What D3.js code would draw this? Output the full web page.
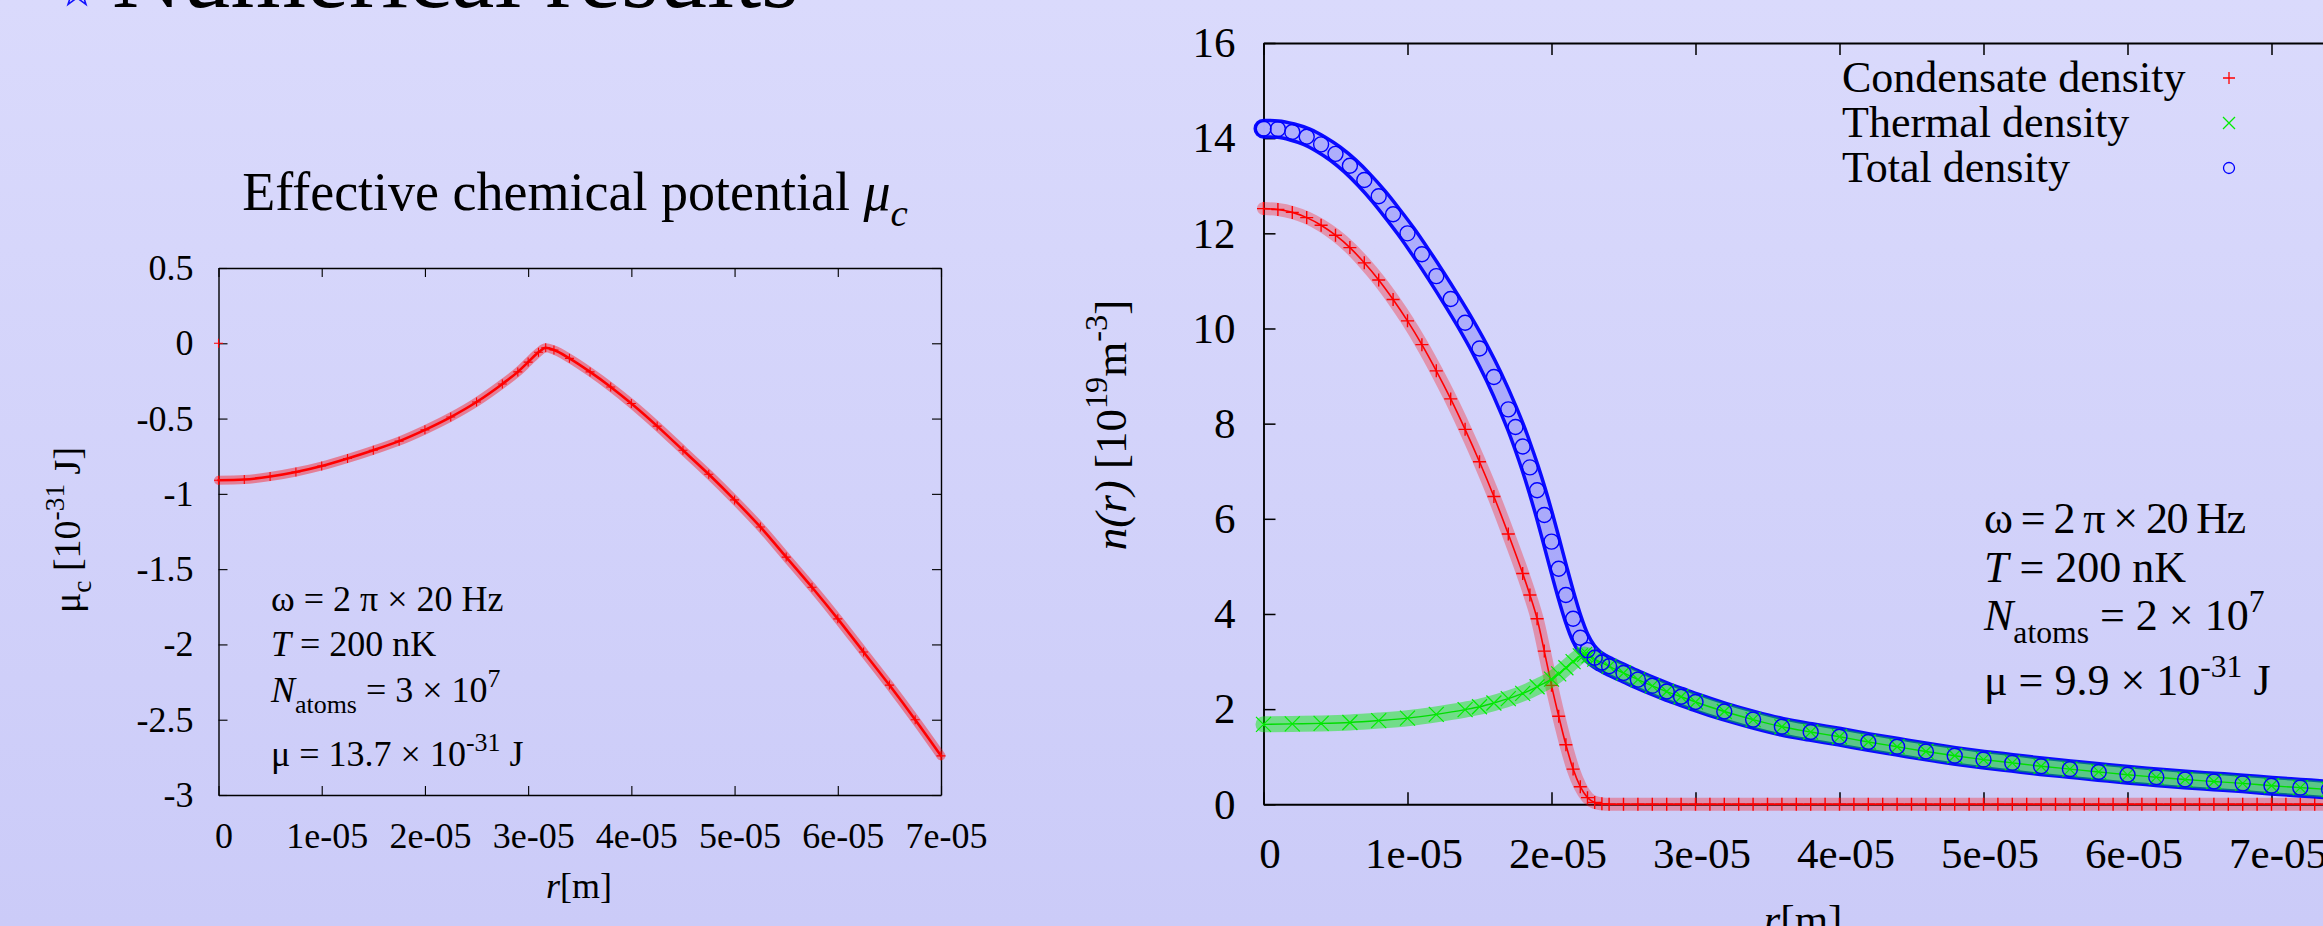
<!DOCTYPE html>
<html>
<head>
<meta charset="utf-8">
<script src="https://cdn.jsdelivr.net/npm/d3@7"></script>
<style>
  html, body { margin: 0; padding: 0; overflow: hidden; background: #d3d3fa; }
  svg { display: block; font-family: "Liberation Serif", "Times New Roman", serif; }
</style>
</head>
<body>
<div id="chart"></div>
<script>
// ---- data (r in micrometres) ----
const muR = [0, 2.5, 5, 7.5, 10, 12.5, 15, 17.5, 20, 22.5, 25, 27.5, 29, 30, 31, 31.7, 32.5, 34, 36, 38,
  40, 42.5, 45, 47.5, 50, 52.5, 55, 57.5, 60, 62.5, 65, 67.5, 70];
const muC = [-0.91, -0.905, -0.885, -0.855, -0.815, -0.765, -0.71, -0.65, -0.575, -0.49, -0.39, -0.27, -0.19, -0.125, -0.06, -0.03, -0.045, -0.10, -0.19, -0.29,
  -0.40, -0.55, -0.71, -0.87, -1.04, -1.22, -1.42, -1.62, -1.83, -2.05, -2.27, -2.50, -2.74];
const muStray = [[0, 0]];

const condR = [0, 1, 2, 3, 4, 5, 6, 7, 8, 9, 10, 11, 12, 13, 14, 15, 16, 17, 18,
  18.5, 19, 19.5, 20, 20.5, 21, 21.5, 22, 22.5, 23, 23.5, 24,
  25, 26, 27, 28, 29, 30, 31, 32, 33, 34, 35, 36, 37, 38, 39, 40, 41, 42, 43, 44, 45, 46, 47, 48, 49, 50,
  51, 52, 53, 54, 55, 56, 57, 58, 59, 60, 61, 62, 63, 64, 65, 66, 67, 68, 69, 70, 71, 72, 73, 74, 75, 76];
const condN = [12.52, 12.50, 12.44, 12.33, 12.17, 11.96, 11.70, 11.38, 11.02, 10.61, 10.16, 9.66, 9.11, 8.52, 7.88, 7.20, 6.47, 5.68, 4.85,
  4.40, 3.90, 3.22, 2.50, 1.85, 1.25, 0.74, 0.37, 0.14, 0.04, 0.01, 0,
  0, 0, 0, 0, 0, 0, 0, 0, 0, 0, 0, 0, 0, 0, 0, 0, 0, 0, 0, 0, 0, 0, 0, 0, 0, 0,
  0, 0, 0, 0, 0, 0, 0, 0, 0, 0, 0, 0, 0, 0, 0, 0, 0, 0, 0, 0, 0, 0, 0, 0, 0, 0];

const thermR = [0, 2, 4, 6, 8, 10, 12, 14, 15, 16, 17, 18, 19, 20, 20.5, 21, 21.5, 22, 22.3, 22.6, 23,
  24, 25, 26, 27, 28, 29, 30, 32, 34, 36, 38, 40, 42, 44, 46, 48, 50, 52, 54, 56, 58, 60, 62, 64, 66, 68, 70, 72, 74, 76];
const thermN = [1.68, 1.69, 1.70, 1.72, 1.76, 1.81, 1.89, 1.99, 2.05, 2.13, 2.22, 2.33, 2.47, 2.63, 2.74, 2.87, 3.00, 3.12, 3.15, 3.12, 3.05,
  2.90, 2.76, 2.62, 2.49, 2.37, 2.26, 2.15, 1.95, 1.78, 1.63, 1.52, 1.42, 1.31, 1.21, 1.11, 1.02, 0.94, 0.87, 0.80, 0.74, 0.68, 0.62, 0.57, 0.52, 0.48, 0.44, 0.39, 0.35, 0.31, 0.28];

const totalR = [0, 1, 2, 3, 4, 5, 6, 7, 8, 9, 10, 11, 12, 13, 14, 15, 16, 17, 17.5, 18,
  18.5, 19, 19.5, 20, 20.5, 21, 21.5, 22, 22.5, 23, 23.5, 24,
  25, 26, 27, 28, 29, 30, 32, 34, 36, 38, 40, 42, 44, 46, 48, 50, 52, 54, 56, 58, 60, 62, 64, 66, 68, 70, 72, 74, 76];
const totalN = [14.20, 14.19, 14.13, 14.03, 13.87, 13.67, 13.42, 13.12, 12.78, 12.40, 12.00, 11.56, 11.10, 10.62, 10.12, 9.58, 8.98, 8.30, 7.93, 7.52,
  7.08, 6.60, 6.08, 5.52, 4.95, 4.40, 3.90, 3.50, 3.24, 3.08, 2.98, 2.90,
  2.76, 2.62, 2.49, 2.37, 2.26, 2.15, 1.95, 1.78, 1.63, 1.52, 1.42, 1.31, 1.21, 1.11, 1.02, 0.94, 0.87, 0.80, 0.74, 0.68, 0.62, 0.57, 0.52, 0.48, 0.44, 0.39, 0.35, 0.31, 0.28];

const rTicks = [0, 1e-5, 2e-5, 3e-5, 4e-5, 5e-5, 6e-5, 7e-5];
const muTicks = [-3, -2.5, -2, -1.5, -1, -0.5, 0, 0.5];
const nTicks = [0, 2, 4, 6, 8, 10, 12, 14, 16];
const legendLabels = ["Condensate density", "Thermal density", "Total density"];

const W = 2323, H = 926;
const toPts = (rs, vs) => rs.map((r, i) => [r * 1e-6, vs[i]]);
const fmtR = d => d === 0 ? "0" : `${Math.round(d * 1e5)}e-05`;

const svg = d3.select("#chart").append("svg")
  .attr("width", W)
  .attr("height", H);

const grad = svg.append("defs").append("linearGradient")
  .attr("id", "bg")
  .attr("gradientUnits", "userSpaceOnUse")
  .attr("x1", 0).attr("y1", 0).attr("x2", 0).attr("y2", H);
grad.append("stop").attr("offset", 0).attr("stop-color", "#dadafc");
grad.append("stop").attr("offset", 1).attr("stop-color", "#cbcbf8");

svg.append("rect").attr("width", W).attr("height", H).attr("fill", "url(#bg)");

// slide heading, mostly cut off at the top
svg.append("path")
  .attr("d", d3.symbol(d3.symbolStar, 260)())
  .attr("transform", "translate(77,-8)")
  .attr("fill", "none")
  .attr("stroke", "#1414ff")
  .attr("stroke-width", 1.6);
svg.append("text")
  .attr("x", 112)
  .attr("y", 7)
  .attr("font-size", 97)
  .text("Numerical results");

// text with italic / sub / sup pieces
function richText(g, x, y, parts, size, anchor) {
  const t = g.append("text")
    .attr("x", x)
    .attr("y", y)
    .attr("font-size", size)
    .attr("text-anchor", anchor || "start");
  let shift = 0;
  parts.forEach(p => {
    const target = p.sup ? -0.42 * size : p.sub ? 0.3 * size : 0;
    const ts = t.append("tspan").attr("dy", target - shift).text(p.t);
    shift = target;
    if (p.sup || p.sub) ts.attr("font-size", size * 0.72);
    if (p.i) ts.attr("font-style", "italic");
  });
  return t;
}

function frame(g, x, y, o) {
  const [yb, yt] = y.range();
  const [xl, xr] = x.range();
  const style = sel => {
    sel.attr("font-size", o.font).attr("font-family", null);
    sel.select(".domain").attr("stroke", "#000").attr("stroke-width", o.lw);
    sel.selectAll(".tick line").attr("stroke", "#000").attr("stroke-width", o.lw * 0.8);
    sel.selectAll("text").attr("fill", "#000");
  };
  g.append("g")
    .attr("transform", `translate(0,${yb})`)
    .call(d3.axisBottom(x).tickValues(rTicks).tickSize(-o.tick).tickSizeOuter(0).tickPadding(o.xPad).tickFormat(fmtR))
    .call(style)
    .selectAll("text").attr("dx", o.xShift);
  g.append("g")
    .attr("transform", `translate(0,${yt})`)
    .call(d3.axisTop(x).tickValues(rTicks).tickSize(-o.tick).tickSizeOuter(0))
    .call(style)
    .selectAll("text").remove();
  g.append("g")
    .attr("transform", `translate(${xl},0)`)
    .call(d3.axisLeft(y).tickValues(o.yTicks).tickSize(-o.tick).tickSizeOuter(0).tickPadding(o.yPad).tickFormat(d => String(d)))
    .call(style);
  g.append("g")
    .attr("transform", `translate(${xr},0)`)
    .call(d3.axisRight(y).tickValues(o.yTicks).tickSize(-o.tick).tickSizeOuter(0))
    .call(style)
    .selectAll("text").remove();
}

function markerPath(kind, px, py, s) {
  if (kind === "plus") return `M${px - s},${py}h${2 * s}M${px},${py - s}v${2 * s}`;
  if (kind === "cross") return `M${px - s},${py - s}l${2 * s},${2 * s}M${px - s},${py + s}l${2 * s},${-2 * s}`;
  return null;
}

function drawMarkers(g, pts, x, y, o) {
  if (o.kind === "circle") {
    g.append("g").selectAll("circle")
      .data(pts)
      .join("circle")
      .attr("cx", d => x(d[0]))
      .attr("cy", d => y(d[1]))
      .attr("r", o.size)
      .attr("fill", "none")
      .attr("stroke", o.color)
      .attr("stroke-width", o.mw);
  } else {
    g.append("path")
      .attr("d", pts.map(d => markerPath(o.kind, x(d[0]), y(d[1]), o.size)).join(""))
      .attr("fill", "none")
      .attr("stroke", o.color)
      .attr("stroke-width", o.mw);
  }
}

function drawBand(g, pts, x, y, width, color, opacity) {
  const line = d3.line()
    .x(d => x(d[0]))
    .y(d => y(d[1]))
    .curve(d3.curveMonotoneX);
  g.append("path")
    .datum(pts)
    .attr("d", line)
    .attr("fill", "none")
    .attr("stroke", color)
    .attr("stroke-width", width)
    .attr("stroke-opacity", opacity)
    .attr("stroke-linejoin", "round")
    .attr("stroke-linecap", "round");
}

// ================= left panel =================
const xL = d3.scaleLinear().domain([0, 7e-5]).range([218.5, 941]);
const yL = d3.scaleLinear().domain([-3, 0.5]).range([795, 268]);
const left = svg.append("g");

richText(left, 575, 210, [
  { t: "Effective chemical potential " },
  { t: "μ", i: true },
  { t: "c", i: true, sub: true }
], 54, "middle");

frame(left, xL, yL, { font: 36, lw: 1.4, tick: 9, xPad: 27, yPad: 25, xShift: 5, yTicks: muTicks });

const muPts = toPts(muR, muC);
drawBand(left, muPts, xL, yL, 9, "#ff0000", 0.4);
drawBand(left, muPts, xL, yL, 2.6, "#ff0000", 1);
drawMarkers(left, muPts, xL, yL, { kind: "plus", size: 4.5, color: "#ff0000", mw: 1.1 });
drawMarkers(left, muStray, xL, yL, { kind: "plus", size: 4.5, color: "#ff0000", mw: 1.1 });

const annL = [
  [{ t: "ω = 2 π × 20 Hz" }],
  [{ t: "T", i: true }, { t: " = 200 nK" }],
  [{ t: "N", i: true }, { t: "atoms", sub: true }, { t: " = 3 × 10" }, { t: "7", sup: true }],
  [{ t: "μ = 13.7 × 10" }, { t: "-31", sup: true }, { t: " J" }]
];
[611, 656, 702, 766].forEach((yy, i) => richText(left, 271, yy, annL[i], 36));

richText(left, 579, 898, [{ t: "r", i: true }, { t: "[m]" }], 36, "middle");

richText(left.append("g").attr("transform", "translate(80,530) rotate(-90)"), 0, 0, [
  { t: "μ" }, { t: "c", sub: true }, { t: " [10" }, { t: "-31", sup: true }, { t: " J]" }
], 38, "middle");

// ================= right panel =================
const xR = d3.scaleLinear().domain([0, 8e-5]).range([1263.5, 2415.5]);
const yR = d3.scaleLinear().domain([0, 16]).range([804.3, 43]);
const right = svg.append("g");

frame(right, xR, yR, { font: 43, lw: 1.9, tick: 12, xPad: 33, yPad: 28, xShift: 6, yTicks: nTicks });

const condPts = toPts(condR, condN);
const thermPts = toPts(thermR, thermN);
const totalPts = toPts(totalR, totalN);

drawBand(right, condPts, xR, yR, 13, "#ff0000", 0.3);
drawBand(right, condPts, xR, yR, 1.6, "#ff0000", 1);
drawMarkers(right, condPts, xR, yR, { kind: "plus", size: 6.5, color: "#ff0000", mw: 1.4 });

drawBand(right, totalPts, xR, yR, 20, "#0000ff", 0.95);
drawBand(right, totalPts, xR, yR, 13, "url(#bg)", 0.8);

drawBand(right, thermPts, xR, yR, 16, "#00ee00", 0.45);
drawBand(right, thermPts, xR, yR, 1.4, "#00dd00", 1);
drawMarkers(right, thermPts, xR, yR, { kind: "cross", size: 7.5, color: "#00ee00", mw: 1.2 });

drawMarkers(right, totalPts, xR, yR, { kind: "circle", size: 7.5, color: "#0000ff", mw: 1.4 });

// legend
const legendKinds = [
  { kind: "plus", color: "#ff0000" },
  { kind: "cross", color: "#00ee00" },
  { kind: "circle", color: "#0000ff" }
];
legendLabels.forEach((lab, i) => {
  const yy = 92 + i * 45;
  right.append("text")
    .attr("x", 1842)
    .attr("y", yy)
    .attr("font-size", 44)
    .text(lab);
  const k = legendKinds[i];
  if (k.kind === "circle") {
    right.append("circle")
      .attr("cx", 2229).attr("cy", yy - 14).attr("r", 5.5)
      .attr("fill", "none").attr("stroke", k.color).attr("stroke-width", 1.3);
  } else {
    right.append("path")
      .attr("d", markerPath(k.kind, 2229, yy - 14, 6))
      .attr("stroke", k.color).attr("stroke-width", 1.3);
  }
});

const annR = [
  [{ t: "ω = 2 π × 20 Hz" }],
  [{ t: "T", i: true }, { t: " = 200 nK" }],
  [{ t: "N", i: true }, { t: "atoms", sub: true }, { t: " = 2 × 10" }, { t: "7", sup: true }],
  [{ t: "μ = 9.9 × 10" }, { t: "-31", sup: true }, { t: " J" }]
];
[533, 582, 630, 695].forEach((yy, i) => {
  const t = richText(right, 1984, yy, annR[i], 44);
  if (i === 0) t.attr("textLength", 262).attr("lengthAdjust", "spacing");
});

richText(right, 1803, 934, [{ t: "r", i: true }, { t: "[m]" }], 43, "middle");

richText(right.append("g").attr("transform", "translate(1126,425) rotate(-90)"), 0, 0, [
  { t: "n(r)", i: true }, { t: " [10" }, { t: "19", sup: true }, { t: "m" }, { t: "-3", sup: true }, { t: "]" }
], 45, "middle");
</script>
</body>
</html>
